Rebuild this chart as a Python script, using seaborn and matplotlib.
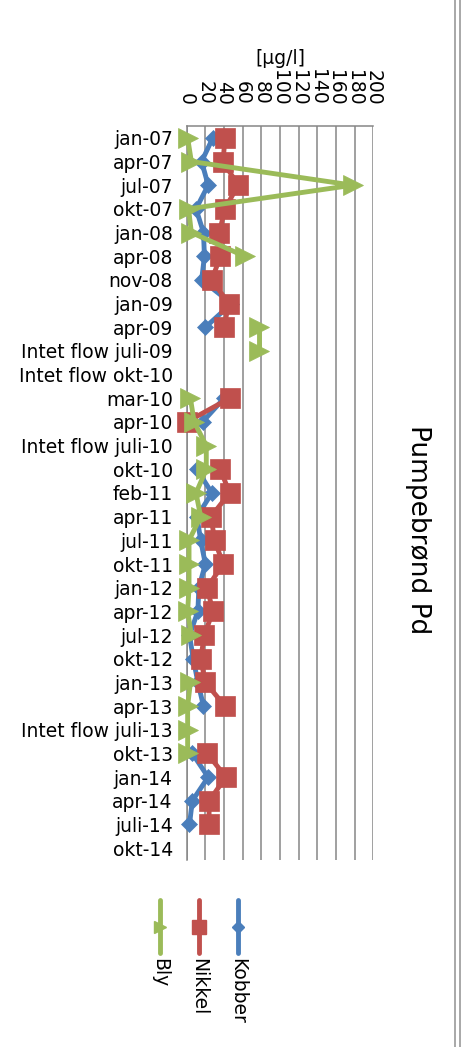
import numpy as np
import pandas as pd
import matplotlib
matplotlib.use("Agg")
import matplotlib.pyplot as plt
import seaborn as sns
from matplotlib.lines import Line2D

sns.set_style("white")
plt.rcParams["font.family"] = ["DejaVu Sans"]
plt.rcParams["text.color"] = "black"
plt.rcParams["xtick.color"] = "black"
plt.rcParams["ytick.color"] = "black"
plt.rcParams["axes.labelcolor"] = "black"

nan = np.nan
categories = ["jan-07", "apr-07", "jul-07", "okt-07", "jan-08", "apr-08", "nov-08",
              "jan-09", "apr-09", "Intet flow juli-09", "Intet flow okt-10", "mar-10",
              "apr-10", "Intet flow juli-10", "okt-10", "feb-11", "apr-11", "jul-11",
              "okt-11", "jan-12", "apr-12", "jul-12", "okt-12", "jan-13", "apr-13",
              "Intet flow juli-13", "okt-13", "jan-14", "apr-14", "juli-14", "okt-14"]
kobber = [28, 16, 23, 10, 18, 19, 16, 48, 20, nan, nan, 40, 17, nan, 11, 27, 11, 15,
          20, 13, 12, 3, 7, 12, 18, nan, 6, 23, 6, 3, nan]
nikkel = [41, 39, 55, 41, 35, 36, 27, 45, 40, nan, nan, 46, 0, nan, 36, 46, 26, 30,
          39, 22, 28, 19, 15, 20, 41, nan, 22, 42, 24, 24, nan]
bly = [1, 5, 178, 2, 5, 62, nan, nan, 78, 78, nan, 4, 8, 21, 21, 10, 15, 2.5,
       2.5, 2.5, 1, 5, nan, 4, 1, 1, 1, nan, nan, nan, nan]
x_ticks = list(range(0, 201, 20))
series_names = ["Kobber", "Nikkel", "Bly"]
series_values = [kobber, nikkel, bly]

colors = {"Kobber": "#4A7EBB", "Nikkel": "#C0504D", "Bly": "#9BBB59"}
markers = {"Kobber": "D", "Nikkel": "s", "Bly": ">"}
msizes = {"Kobber": 8.5, "Nikkel": 14, "Bly": 14}

rows = []
for name, vals in zip(series_names, series_values):
    seg = 0
    for i, v in enumerate(vals):
        if np.isnan(v):
            seg += 1
            continue
        rows.append({"metal": name, "pos": i, "value": v, "seg": seg})
df = pd.DataFrame(rows)

W, H = 466, 1047
fig = plt.figure(figsize=(W / 100, H / 100), dpi=100)


def fx(px):
    return px / W


def fy(py):
    return 1 - py / H


ax = fig.add_axes([fx(186.7), fy(860), (373.3 - 186.7) / W, (860 - 126) / H])

for z, name in enumerate(series_names):
    sub = df[df.metal == name]
    sns.lineplot(data=sub, x="value", y="pos", units="seg", estimator=None,
                 sort=False, orient="y", color=colors[name], marker=markers[name],
                 markersize=msizes[name], markeredgecolor=colors[name],
                 markeredgewidth=0.5, linewidth=3.5, ax=ax, legend=False,
                 zorder=3 + z)

for ln in ax.lines:
    ln.set_clip_on(False)

ax.set_xlim(0, 200)
ax.set_ylim(len(categories) - 0.5, -0.5)
ax.set_xticks(x_ticks)
ax.set_xticklabels([str(t) for t in x_ticks], rotation=-90, fontsize=13.5)
ax.set_yticks(range(len(categories)))
ax.set_yticklabels(categories, fontsize=13.5)
ax.xaxis.tick_top()
ax.xaxis.set_label_position("top")
ax.set_xlabel("[µg/l]", fontsize=13.5, labelpad=4)
ax.set_ylabel("")
ax.tick_params(axis="x", length=0, pad=15)
ax.tick_params(axis="y", length=0, pad=10)
ax.grid(axis="x", color="#868686", linewidth=1.1)
ax.grid(axis="y", visible=False)
ax.set_axisbelow(True)
for s in ["right", "bottom"]:
    ax.spines[s].set_visible(False)
for s in ["top", "left"]:
    ax.spines[s].set_color("#868686")
    ax.spines[s].set_linewidth(1.1)

fig.text(fx(418), fy(530), "Pumpebrønd Pd", rotation=-90, ha="center",
         va="center", fontsize=19)

# legend (manual, rotated)
leg_x = {"Bly": 160, "Nikkel": 199, "Kobber": 237.5}
leg_ms = {"Bly": 8, "Nikkel": 9.5, "Kobber": 6}
for name in ["Bly", "Nikkel", "Kobber"]:
    x = fx(leg_x[name])
    fig.add_artist(Line2D([x, x], [fy(900), fy(953)], transform=fig.transFigure,
                          color=colors[name], linewidth=3.5, solid_capstyle="round"))
    fig.add_artist(Line2D([x], [fy(927)], transform=fig.transFigure,
                          color=colors[name], marker=markers[name],
                          markersize=leg_ms[name], markeredgecolor=colors[name]))
    fig.text(x, fy(958), name, rotation=-90, ha="center", va="top", fontsize=13.5)

# chart frame on the right
for xp in [455, 460]:
    fig.add_artist(Line2D([fx(xp), fx(xp)], [0, 1], transform=fig.transFigure,
                          color="#9a9a9a", linewidth=1.2))

fig.savefig("out.png", dpi=100)
